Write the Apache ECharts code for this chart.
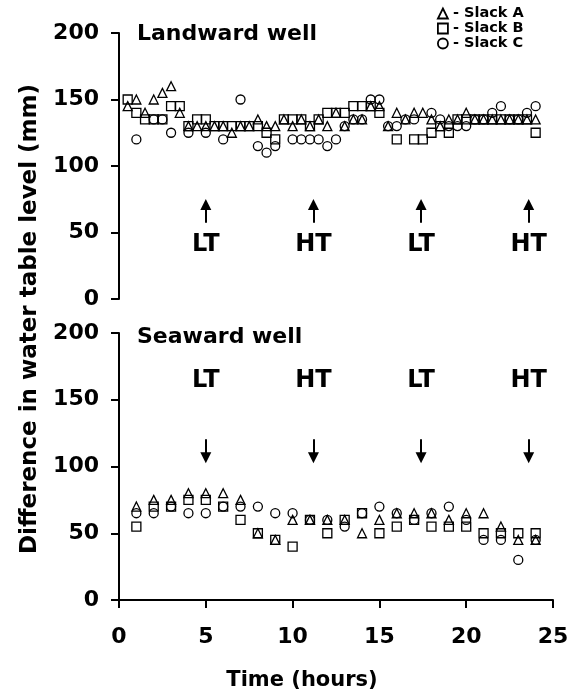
<!DOCTYPE html>
<html><head><meta charset="utf-8">
<script src="https://cdn.jsdelivr.net/npm/echarts@6/dist/echarts.min.js"></script>
<style>html,body{margin:0;padding:0;background:#fff}#c{width:574px;height:695px}</style>
</head><body><div id="c"></div>
<script>
// ---- Data ----
const topHours = [0.5,1,1.5,2,2.5,3,3.5,4,4.5,5,5.5,6,6.5,7,7.5,8,8.5,9,9.5,10,10.5,11,11.5,12,
                  12.5,13,13.5,14,14.5,15,15.5,16,16.5,17,17.5,18,18.5,19,19.5,20,20.5,21,21.5,22,22.5,23,23.5,24];
const landSlackA = [145,150,140,150,155,160,140,130,130,130,130,130,125,130,130,135,130,130,135,130,135,130,135,130,
                    140,130,135,135,145,145,130,140,135,140,140,135,130,135,135,140,135,135,135,135,135,135,135,135];
const landSlackB = [150,140,135,135,135,145,145,130,135,135,130,130,130,130,130,130,125,120,135,135,135,130,135,140,
                    140,140,145,145,145,140,null,120,null,120,120,125,130,125,135,135,135,135,135,135,135,135,135,125];
const landSlackC = [null,120,null,135,135,125,null,125,null,125,null,120,null,150,null,115,110,115,null,120,120,120,120,115,
                    120,130,135,135,150,150,130,130,135,135,null,140,135,130,130,130,135,135,140,145,135,135,140,145];

const botHours = [1,2,3,4,5,6,7,8,9,10,11,12,13,14,15,16,17,18,19,20,21,22,23,24];
const seaSlackA = [70,75,75,80,80,80,75,50,45,60,60,60,60,50,60,65,65,65,60,65,65,55,45,45];
const seaSlackB = [55,70,70,75,75,70,60,50,45,40,60,50,60,65,50,55,60,55,55,55,50,50,50,50];
const seaSlackC = [65,65,70,65,65,70,70,70,65,65,60,60,55,65,70,65,60,65,70,60,45,45,30,45];

const xTicks = [0,5,10,15,20,25];
const yTicks = [0,50,100,150,200];

// Tide annotations
const tideLabels = ['LT','HT','LT','HT'];
const tideHours  = [5,11.2,17.4,23.6];
const landTextY = 40.5, landArrowFrom = 57.4, landArrowTo = 71;
const seaTextY = 164, seaArrowFrom = 120.5, seaArrowTo = 106.5;

const FONT = 'DejaVu Sans';
const chart = echarts.init(document.getElementById('c'), null, {renderer:'canvas'});

function pairs(xs, ys){ const out=[]; xs.forEach((x,i)=>{ if(ys[i]!=null) out.push([x,ys[i]]); }); return out; }
const mk = {color:'rgba(0,0,0,0)', borderColor:'#000', borderWidth:1.3, opacity:1};
const SYM = 9;

function yAxis(grid){
  return {type:'value', gridIndex:grid, min:yTicks[0], max:yTicks[yTicks.length-1], interval:50,
    splitLine:{show:false},
    axisLine:{show:true, lineStyle:{color:'#000', width:2}},
    axisTick:{show:true, length:8, lineStyle:{color:'#000', width:2}},
    axisLabel:{color:'#000', fontFamily:FONT, fontWeight:'bold', fontSize:22, margin:20}};
}

function scatter(name, grid, xs, ys, symbol){
  return {type:'scatter', name, xAxisIndex:grid, yAxisIndex:grid, symbol, symbolSize:SYM,
    itemStyle:mk, data:pairs(xs, ys), silent:true, z:3};
}

function tideSeries(grid, textY, from, to){
  return {type:'scatter', name:'tide'+grid, xAxisIndex:grid, yAxisIndex:grid, symbolSize:1,
    itemStyle:{color:'rgba(0,0,0,0)', opacity:1}, silent:true,
    data: tideHours.map((h,i)=>[h, textY, tideLabels[i]]),
    label:{show:true, position:'inside', formatter:p=>p.value[2], color:'#000',
      textBorderWidth:0, fontFamily:FONT, fontWeight:'bold', fontSize:24},
    markLine:{silent:true, symbol:['none','triangle'], symbolSize:11,
      lineStyle:{color:'#000', width:2, type:'solid', opacity:1}, label:{show:false},
      data: tideHours.map(h=>[{coord:[h,from]},{coord:[h,to]}])}
  };
}

const option = {
  animation:false,
  backgroundColor:'#fff',
  textStyle:{fontFamily:FONT},
  title:[
    {text:'Landward well', left:137, top:23, textStyle:{fontFamily:FONT, fontWeight:'bold', fontSize:22, color:'#000'}, padding:0},
    {text:'Seaward well', left:137, top:326, textStyle:{fontFamily:FONT, fontWeight:'bold', fontSize:22, color:'#000'}, padding:0}
  ],
  legend:{data:['Slack A','Slack B','Slack C'], orient:'vertical', left:437, top:6, padding:0,
    itemWidth:10, itemHeight:10, itemGap:0,
    formatter:n=>'- '+n,
    itemStyle:{color:'rgba(0,0,0,0)', borderColor:'#000', borderWidth:1.8, opacity:1},
    textStyle:{fontFamily:FONT, fontWeight:'bold', fontSize:14.5, lineHeight:14, color:'#000'}},
  graphic:[
    {type:'text', x:30, y:319, rotation:Math.PI/2,
     style:{text:'Difference in water table level (mm)', fontFamily:FONT, fontWeight:'bold', fontSize:23,
      fill:'#000', align:'center', verticalAlign:'middle'}},
    {type:'text', x:302, y:681,
     style:{text:'Time (hours)', fontFamily:FONT, fontWeight:'bold', fontSize:21,
      fill:'#000', align:'center', verticalAlign:'middle'}}
  ],
  grid:[
    {left:119, top:33, width:434, height:266},
    {left:119, top:333, width:434, height:267}
  ],
  xAxis:[
    {type:'value', gridIndex:0, min:0, max:25, interval:5, show:false},
    {type:'value', gridIndex:1, min:xTicks[0], max:xTicks[xTicks.length-1], interval:5,
      splitLine:{show:false},
      axisLine:{show:true, lineStyle:{color:'#000', width:2}},
      axisTick:{show:true, length:8, lineStyle:{color:'#000', width:2}},
      axisLabel:{color:'#000', fontFamily:FONT, fontWeight:'bold', fontSize:22, margin:26}}
  ],
  yAxis:[yAxis(0), yAxis(1)],
  series:[
    scatter('Slack A',0,topHours,landSlackA,'triangle'),
    scatter('Slack B',0,topHours,landSlackB,'rect'),
    scatter('Slack C',0,topHours,landSlackC,'circle'),
    scatter('Slack A',1,botHours,seaSlackA,'triangle'),
    scatter('Slack B',1,botHours,seaSlackB,'rect'),
    scatter('Slack C',1,botHours,seaSlackC,'circle'),
    tideSeries(0, landTextY, landArrowFrom, landArrowTo),
    tideSeries(1, seaTextY, seaArrowFrom, seaArrowTo)
  ]
};
chart.setOption(option);
</script></body></html>
